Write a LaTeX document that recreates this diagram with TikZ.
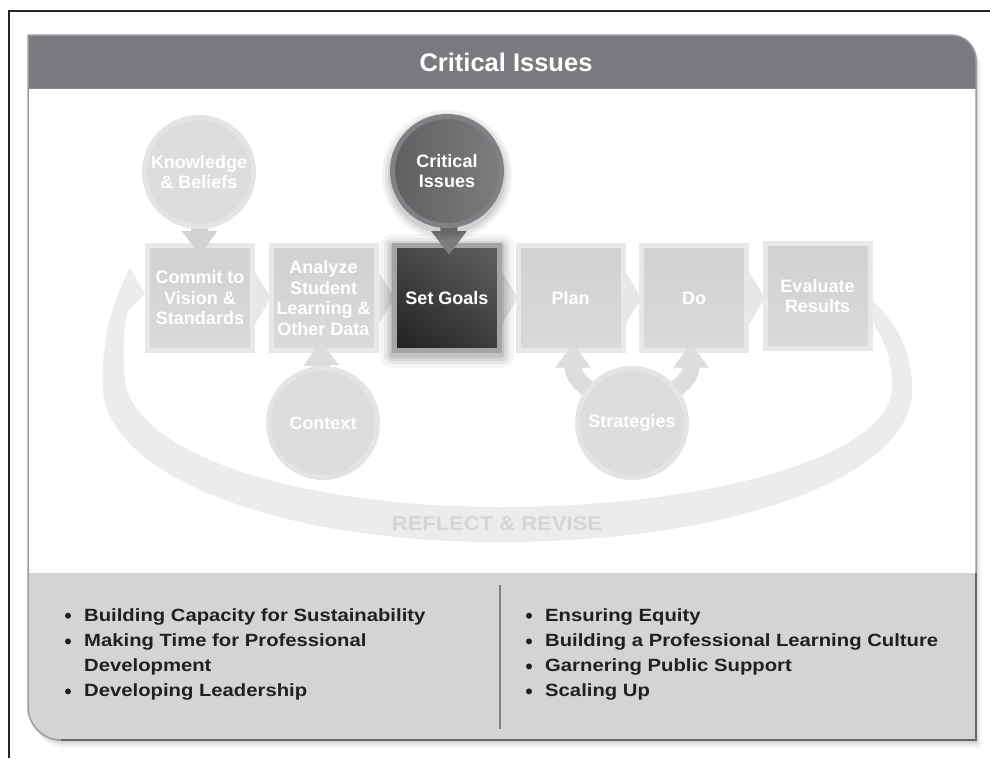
\documentclass[tikz,border=0pt]{standalone}
\usepackage{fontspec}
\setmainfont{Liberation Sans}
\usepackage{graphicx}
\usetikzlibrary{arrows.meta,shadings,calc}
\pgfdeclarelayer{back}
\pgfdeclarelayer{boxes}
\pgfdeclarelayer{arr}
\pgfsetlayers{back,boxes,arr,main}
\definecolor{hdr}{HTML}{7A7B7E}
\definecolor{panel}{HTML}{D3D4D6}
\definecolor{cardline}{HTML}{9C9DA0}
\definecolor{band}{HTML}{ECECED}
\definecolor{bandtxt}{HTML}{D5D5D6}
\definecolor{chev}{HTML}{E7E7E8}
\definecolor{boxrim}{HTML}{E8E8E9}
\definecolor{boxfillA}{HTML}{D0D1D3}
\definecolor{boxfillB}{HTML}{D9DADC}
\definecolor{circfill}{HTML}{DCDDDF}
\definecolor{circrim}{HTML}{E4E4E6}
\definecolor{darkrim}{HTML}{808184}
\definecolor{darkA}{HTML}{5E5F61}
\definecolor{darkB}{HTML}{7C7D7F}
\definecolor{sgrim}{HTML}{A3A4A6}
\definecolor{bultxt}{HTML}{231F20}
\definecolor{divl}{HTML}{7D7E80}
\tikzset{
  lbl/.style={font=\fontsize{18}{20.5}\selectfont\bfseries, text=white, align=center, inner sep=0pt},
  lbox/.style={lbl, rectangle, minimum size=105pt, line width=5pt, draw=boxrim, top color=boxfillA, bottom color=boxfillB},
  sgbox/.style={lbl, rectangle, minimum size=105pt, line width=5pt, draw=sgrim,
     upper left=black!72, upper right=black!62, lower left=black!88, lower right=black!76},
  lcirc/.style={lbl, circle, minimum size=109pt, line width=5pt, draw=circrim, fill=circfill},
  dcirc/.style={lbl, circle, minimum size=109pt, line width=5pt, draw=darkrim, left color=darkA, right color=darkB},
  fat/.style={line width=17pt, -{Triangle[width=34pt,length=24pt]}},
  bul/.style={anchor=base west, font=\fontsize{17.7}{21}\selectfont\bfseries, text=bultxt, inner sep=0pt},
}
\begin{document}
\begin{tikzpicture}[x=1pt,y=-1pt]
\useasboundingbox (0,0) rectangle (990,758);
\begin{pgfonlayer}{back}
\fill[white] (0,0) rectangle (990,758);
\draw[line width=1.6pt, black!85] (9,758) -- (9,11) -- (990,11);
% card shadow
\foreach \s/\o in {9/0.03,6/0.04,4/0.05,2/0.07}{
  \begin{scope}[shift={(\s*0.6,\s)}]
  \fill[black,opacity=\o] (28,35) -- (951,35) .. controls (965,35) and (976,46) .. (976,60) -- (976,740) -- (61,740) .. controls (43,740) and (28,725) .. (28,707) -- cycle;
  \end{scope}}
% card body
\fill[white] (28,35) -- (951,35) .. controls (965,35) and (976,46) .. (976,60) -- (976,740) -- (61,740) .. controls (43,740) and (28,725) .. (28,707) -- cycle;
\fill[hdr] (28,35) -- (951,35) .. controls (965,35) and (976,46) .. (976,60) -- (976,88) -- (28,88) -- cycle;
\fill[panel] (28,573) -- (976,573) -- (976,740) -- (61,740) .. controls (43,740) and (28,725) .. (28,707) -- cycle;
\draw[cardline, line width=1.5pt] (28,35) -- (951,35) .. controls (965,35) and (976,46) .. (976,60) -- (976,740) -- (61,740) .. controls (43,740) and (28,725) .. (28,707) -- cycle;
\draw[black!60, line width=1.6pt] (61,740) -- (976,740) -- (976,573);
\draw[black!45, line width=1pt] (28,88) -- (976,88);
% reflect and revise loop
\fill[band] (862,292) .. controls (896,318) and (913,352) .. (912,392)
  .. controls (909,478) and (730,542) .. (500,542)
  .. controls (268,542) and (108,472) .. (103,390)
  .. controls (100,340) and (115,295) .. (130,268)
  -- (145,294) -- (128,311)
  .. controls (124,325) and (122,350) .. (125,382)
  .. controls (137,455) and (300,507) .. (500,507)
  .. controls (715,507) and (890,455) .. (892,388)
  .. controls (893,355) and (880,328) .. (860,308) -- cycle;
% chevrons
\foreach \c in {200,323.5,447,570.5,694}{
  \fill[chev] (\c+50,264) -- (\c+50,332) -- (\c+71,298) -- cycle;}
\end{pgfonlayer}
\node[font=\fontsize{20}{24}\selectfont\bfseries, text=bandtxt, inner sep=0pt] (rr) at (497,524) {\scalebox{1.1}[1]{REFLECT \& REVISE}};
% boxes
\begin{pgfonlayer}{boxes}
\foreach \g/\o in {12/0.04,8/0.05,5/0.07,2/0.09}{
  \fill[black,opacity=\o,rounded corners=\g] (392-\g,246-\g) rectangle (502+\g,356+\g);}
\node[lbox] (commit) at (200,298) {Commit to\\Vision \&\\Standards};
\node[lbox] (an) at (323.5,298) {Analyze\\Student\\Learning \&\\Other Data};
\node[sgbox] (sg) at (447,298) {Set Goals};
\node[lbox] (plan) at (570.5,298) {Plan};
\node[lbox] (do) at (694,298) {Do};
\node[lbox] (ev) at (817.5,296) {Evaluate\\Results};
\end{pgfonlayer}
% circle centres
\coordinate (kbc) at (199,172);
\coordinate (cic) at (447,171);
\coordinate (ctc) at (323,423);
\coordinate (stc) at (632,423);
% glows
\foreach \g/\o in {8/0.05,5/0.06,2/0.08}{
  \fill[black,opacity=\o] ($(cic)+(0,4)$) circle (57+\g);}
\begin{pgfonlayer}{arr}
\draw[fat, color=circfill!95!black] (kbc) -- ([yshift=-12pt]commit.north);
\draw[fat, color=darkB] (440,171) .. controls (440,215) and (449,212) .. ([yshift=-12pt,xshift=2pt]sg.north);
\draw[fat, color=circfill] (ctc) -- ([yshift=11.5pt,xshift=-3pt]an.south);
\draw[fat, color=circfill] (stc) .. controls (600,395) and (573,385) .. ([yshift=9.5pt,xshift=2.5pt]plan.south);
\draw[fat, color=circfill] (stc) .. controls (664,395) and (691,385) .. ([yshift=9.5pt,xshift=-3pt]do.south);
\end{pgfonlayer}
\node[lcirc] (kb) at (kbc) {Knowledge\\\& Beliefs};
\node[dcirc] (ci) at (cic) {Critical\\Issues};
\node[lcirc] (ctx) at (ctc) {Context};
\node[lcirc] (st) at (stc) {Strategies};
% title
\node[font=\fontsize{25.5}{30}\selectfont\bfseries, text=white] (title) at (506,62) {Critical Issues};
% divider
\draw[divl, line width=2pt] (500,585) -- (500,729);
% bullets
\foreach \yy in {615.7,641.4,691.4}{\fill[bultxt] (68,\yy) circle (3);}
\foreach \yy in {615.7,641.4,666.4,691.4}{\fill[bultxt] (529,\yy) circle (3);}
\node[bul] (b1) at (84,621) {\scalebox{1.145}[1]{Building Capacity for Sustainability}};
\node[bul] (b2) at (84,646.7) {\scalebox{1.145}[1]{Making Time for Professional}};
\node[bul] (b2b) at (84,671.7) {\scalebox{1.145}[1]{Development}};
\node[bul] (b3) at (84,696.7) {\scalebox{1.145}[1]{Developing Leadership}};
\node[bul] (r1) at (545,621) {\scalebox{1.145}[1]{Ensuring Equity}};
\node[bul] (r2) at (545,646.7) {\scalebox{1.145}[1]{Building a Professional Learning Culture}};
\node[bul] (r3) at (545,671.7) {\scalebox{1.145}[1]{Garnering Public Support}};
\node[bul] (r4) at (545,696.7) {\scalebox{1.145}[1]{Scaling Up}};
\end{tikzpicture}
\end{document}
